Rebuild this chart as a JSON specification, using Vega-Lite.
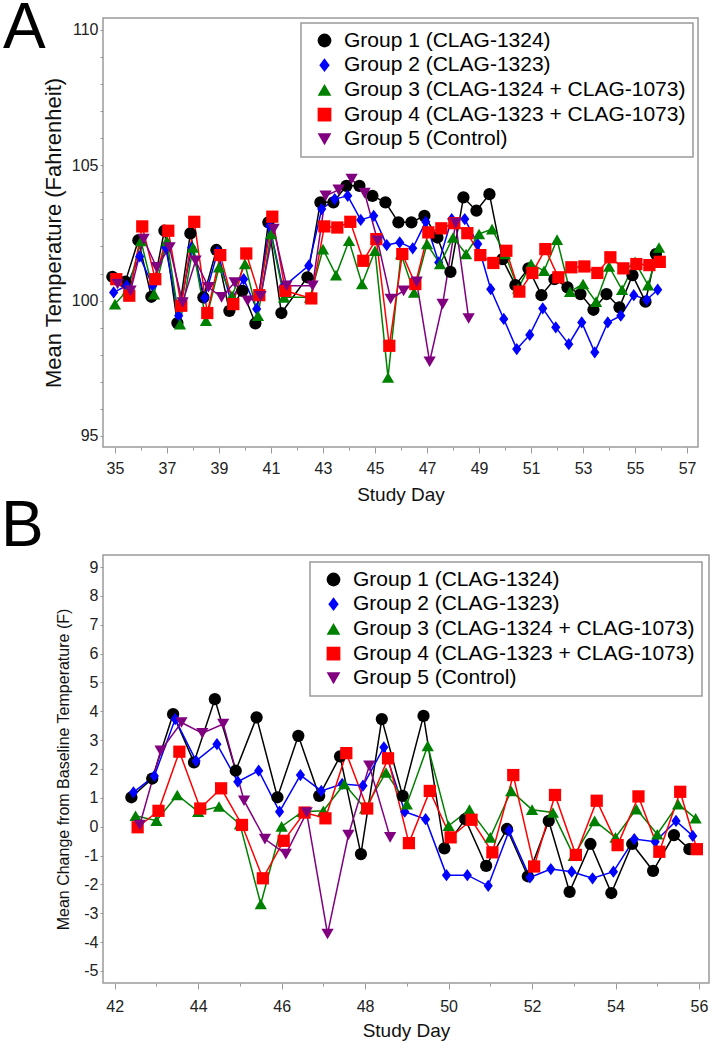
{
  "$schema": "https://vega.github.io/schema/vega-lite/v6.json",
  "background": "white",
  "padding": {"left": 0, "top": -4, "right": 0, "bottom": 0},
  "bounds": "flush",
  "spacing": 108,
  "config": {
    "font": "Liberation Sans",
    "view": {"stroke": "#9a9a9a", "strokeWidth": 1.5},
    "axis": {"grid": false, "domain": false, "tickColor": "#9a9a9a", "tickWidth": 1, "labelFont": "Liberation Sans", "labelFontSize": 16, "labelColor": "#222222", "titleFont": "Liberation Sans", "titleFontWeight": "normal", "titleColor": "#111111", "labelOverlap": false, "labelFlush": false},
    "legend": {"strokeColor": "#9a9a9a", "strokeWidth": 1.5, "fillColor": "#ffffff", "padding": 7, "symbolOffset": 6, "labelFont": "Liberation Sans", "labelFontSize": 21, "labelColor": "#000000", "symbolSize": 190, "symbolStrokeWidth": 0, "labelOffset": 9, "rowPadding": 2.7, "labelLimit": 600}
  },
  "datasets": {
    "A": [
      {"g":1,"d":34.9,"v":100.88},{"g":1,"d":35.4,"v":100.7},{"g":1,"d":35.9,"v":102.23},{"g":1,"d":36.4,"v":100.14},{"g":1,"d":36.9,"v":102.58},{"g":1,"d":37.4,"v":99.17},{"g":1,"d":37.9,"v":102.48},{"g":1,"d":38.4,"v":100.12},{"g":1,"d":38.9,"v":101.87},{"g":1,"d":39.4,"v":99.62},{"g":1,"d":39.9,"v":100.36},{"g":1,"d":40.4,"v":99.16},{"g":1,"d":40.9,"v":102.89},{"g":1,"d":41.4,"v":99.54},{"g":1,"d":42.4,"v":100.86},{"g":1,"d":42.9,"v":103.63},{"g":1,"d":43.4,"v":103.63},{"g":1,"d":43.9,"v":104.24},{"g":1,"d":44.4,"v":104.24},{"g":1,"d":44.9,"v":103.87},{"g":1,"d":45.4,"v":103.63},{"g":1,"d":45.9,"v":102.89},{"g":1,"d":46.4,"v":102.89},{"g":1,"d":46.9,"v":103.13},{"g":1,"d":47.4,"v":102.33},{"g":1,"d":47.9,"v":101.06},{"g":1,"d":48.4,"v":103.81},{"g":1,"d":48.9,"v":103.32},{"g":1,"d":49.4,"v":103.93},{"g":1,"d":49.9,"v":101.53},{"g":1,"d":50.4,"v":100.57},{"g":1,"d":50.9,"v":101.19},{"g":1,"d":51.4,"v":100.2},{"g":1,"d":51.9,"v":100.79},{"g":1,"d":52.4,"v":100.49},{"g":1,"d":52.9,"v":100.24},{"g":1,"d":53.4,"v":99.66},{"g":1,"d":53.9,"v":100.24},{"g":1,"d":54.4,"v":99.75},{"g":1,"d":54.9,"v":100.94},{"g":1,"d":55.4,"v":99.96},{"g":1,"d":55.8,"v":101.72},
      {"g":2,"d":34.95,"v":100.3},{"g":2,"d":35.45,"v":100.55},{"g":2,"d":35.95,"v":101.63},{"g":2,"d":36.45,"v":100.55},{"g":2,"d":36.95,"v":101.96},{"g":2,"d":37.45,"v":99.44},{"g":2,"d":37.95,"v":101.96},{"g":2,"d":38.45,"v":100.1},{"g":2,"d":38.95,"v":101.8},{"g":2,"d":39.45,"v":100.0},{"g":2,"d":39.95,"v":100.79},{"g":2,"d":40.45,"v":99.69},{"g":2,"d":40.95,"v":102.76},{"g":2,"d":41.45,"v":100.49},{"g":2,"d":42.45,"v":101.29},{"g":2,"d":42.95,"v":103.38},{"g":2,"d":43.45,"v":103.75},{"g":2,"d":43.95,"v":103.87},{"g":2,"d":44.45,"v":102.98},{"g":2,"d":44.95,"v":103.13},{"g":2,"d":45.45,"v":102.05},{"g":2,"d":45.95,"v":102.15},{"g":2,"d":46.45,"v":101.93},{"g":2,"d":46.95,"v":102.91},{"g":2,"d":47.45,"v":101.41},{"g":2,"d":47.95,"v":103.01},{"g":2,"d":48.45,"v":103.01},{"g":2,"d":48.95,"v":102.09},{"g":2,"d":49.45,"v":100.42},{"g":2,"d":49.95,"v":99.32},{"g":2,"d":50.45,"v":98.21},{"g":2,"d":50.95,"v":98.73},{"g":2,"d":51.45,"v":99.71},{"g":2,"d":51.95,"v":99.01},{"g":2,"d":52.45,"v":98.39},{"g":2,"d":52.95,"v":99.19},{"g":2,"d":53.45,"v":98.09},{"g":2,"d":53.95,"v":99.19},{"g":2,"d":54.45,"v":99.44},{"g":2,"d":54.95,"v":100.2},{"g":2,"d":55.45,"v":100.03},{"g":2,"d":55.87,"v":100.4},
      {"g":3,"d":35.0,"v":99.87},{"g":3,"d":35.5,"v":100.4},{"g":3,"d":36.0,"v":102.2},{"g":3,"d":36.5,"v":100.24},{"g":3,"d":37.0,"v":102.2},{"g":3,"d":37.5,"v":99.13},{"g":3,"d":38.0,"v":101.96},{"g":3,"d":38.5,"v":99.26},{"g":3,"d":39.0,"v":101.23},{"g":3,"d":39.5,"v":100.18},{"g":3,"d":40.0,"v":101.35},{"g":3,"d":40.5,"v":99.44},{"g":3,"d":41.0,"v":102.46},{"g":3,"d":41.5,"v":100.12},{"g":3,"d":42.5,"v":100.12},{"g":3,"d":43.0,"v":101.9},{"g":3,"d":43.5,"v":100.94},{"g":3,"d":44.0,"v":102.21},{"g":3,"d":44.5,"v":100.61},{"g":3,"d":45.0,"v":101.84},{"g":3,"d":45.5,"v":97.16},{"g":3,"d":46.0,"v":101.72},{"g":3,"d":46.5,"v":100.3},{"g":3,"d":47.0,"v":102.09},{"g":3,"d":47.5,"v":101.35},{"g":3,"d":48.0,"v":102.33},{"g":3,"d":48.5,"v":101.72},{"g":3,"d":49.0,"v":102.46},{"g":3,"d":49.5,"v":102.64},{"g":3,"d":50.0,"v":101.72},{"g":3,"d":50.5,"v":100.45},{"g":3,"d":51.0,"v":101.35},{"g":3,"d":51.5,"v":101.1},{"g":3,"d":52.0,"v":102.25},{"g":3,"d":52.5,"v":100.33},{"g":3,"d":53.0,"v":100.61},{"g":3,"d":53.5,"v":99.96},{"g":3,"d":54.0,"v":101.26},{"g":3,"d":54.5,"v":100.4},{"g":3,"d":55.0,"v":101.43},{"g":3,"d":55.5,"v":100.57},{"g":3,"d":55.92,"v":101.96},
      {"g":4,"d":35.05,"v":100.79},{"g":4,"d":35.55,"v":100.18},{"g":4,"d":36.05,"v":102.74},{"g":4,"d":36.55,"v":100.79},{"g":4,"d":37.05,"v":102.58},{"g":4,"d":37.55,"v":99.81},{"g":4,"d":38.05,"v":102.91},{"g":4,"d":38.55,"v":99.54},{"g":4,"d":39.05,"v":101.68},{"g":4,"d":39.55,"v":99.87},{"g":4,"d":40.05,"v":101.74},{"g":4,"d":40.55,"v":100.2},{"g":4,"d":41.05,"v":103.1},{"g":4,"d":41.55,"v":100.36},{"g":4,"d":42.55,"v":100.08},{"g":4,"d":43.05,"v":102.74},{"g":4,"d":43.55,"v":102.7},{"g":4,"d":44.05,"v":102.91},{"g":4,"d":44.55,"v":101.47},{"g":4,"d":45.05,"v":102.27},{"g":4,"d":45.55,"v":98.33},{"g":4,"d":46.05,"v":101.72},{"g":4,"d":46.55,"v":100.61},{"g":4,"d":47.05,"v":102.52},{"g":4,"d":47.55,"v":102.67},{"g":4,"d":48.05,"v":102.86},{"g":4,"d":48.55,"v":102.49},{"g":4,"d":49.05,"v":101.68},{"g":4,"d":49.55,"v":101.39},{"g":4,"d":50.05,"v":101.84},{"g":4,"d":50.55,"v":100.33},{"g":4,"d":51.05,"v":101.02},{"g":4,"d":51.55,"v":101.9},{"g":4,"d":52.05,"v":100.86},{"g":4,"d":52.55,"v":101.23},{"g":4,"d":53.05,"v":101.26},{"g":4,"d":53.55,"v":101.02},{"g":4,"d":54.05,"v":101.6},{"g":4,"d":54.55,"v":101.19},{"g":4,"d":55.05,"v":101.35},{"g":4,"d":55.55,"v":101.31},{"g":4,"d":55.95,"v":101.43},
      {"g":5,"d":35.1,"v":100.61},{"g":5,"d":35.6,"v":100.36},{"g":5,"d":36.1,"v":102.27},{"g":5,"d":36.6,"v":101.23},{"g":5,"d":37.1,"v":101.96},{"g":5,"d":37.6,"v":99.93},{"g":5,"d":38.1,"v":101.47},{"g":5,"d":38.6,"v":100.49},{"g":5,"d":39.1,"v":100.12},{"g":5,"d":39.6,"v":100.67},{"g":5,"d":40.1,"v":99.99},{"g":5,"d":40.6,"v":100.16},{"g":5,"d":41.1,"v":102.64},{"g":5,"d":41.6,"v":100.55},{"g":5,"d":42.6,"v":100.55},{"g":5,"d":43.1,"v":103.87},{"g":5,"d":43.6,"v":104.09},{"g":5,"d":44.1,"v":104.49},{"g":5,"d":44.6,"v":103.97},{"g":5,"d":45.1,"v":102.21},{"g":5,"d":45.6,"v":100.06},{"g":5,"d":46.1,"v":100.36},{"g":5,"d":46.6,"v":100.69},{"g":5,"d":47.1,"v":97.74},{"g":5,"d":47.6,"v":99.87},{"g":5,"d":48.1,"v":102.86},{"g":5,"d":48.6,"v":99.34}
    ],
    "B": [
      {"g":1,"d":42.4,"v":1.02},{"g":1,"d":42.9,"v":1.67},{"g":1,"d":43.4,"v":3.9},{"g":1,"d":43.9,"v":2.23},{"g":1,"d":44.4,"v":4.42},{"g":1,"d":44.9,"v":1.94},{"g":1,"d":45.4,"v":3.79},{"g":1,"d":45.9,"v":1.02},{"g":1,"d":46.4,"v":3.15},{"g":1,"d":46.9,"v":1.07},{"g":1,"d":47.4,"v":2.44},{"g":1,"d":47.9,"v":-0.95},{"g":1,"d":48.4,"v":3.73},{"g":1,"d":48.9,"v":1.07},{"g":1,"d":49.4,"v":3.84},{"g":1,"d":49.9,"v":-0.75},{"g":1,"d":50.4,"v":0.26},{"g":1,"d":50.9,"v":-1.36},{"g":1,"d":51.4,"v":-0.08},{"g":1,"d":51.9,"v":-1.72},{"g":1,"d":52.4,"v":0.2},{"g":1,"d":52.9,"v":-2.26},{"g":1,"d":53.4,"v":-0.6},{"g":1,"d":53.9,"v":-2.3},{"g":1,"d":54.4,"v":-0.6},{"g":1,"d":54.9,"v":-1.53},{"g":1,"d":55.4,"v":-0.29},{"g":1,"d":55.77,"v":-0.78},
      {"g":2,"d":42.45,"v":1.19},{"g":2,"d":42.95,"v":1.76},{"g":2,"d":43.45,"v":3.73},{"g":2,"d":43.95,"v":2.28},{"g":2,"d":44.45,"v":2.86},{"g":2,"d":44.95,"v":1.56},{"g":2,"d":45.45,"v":1.94},{"g":2,"d":45.95,"v":0.52},{"g":2,"d":46.45,"v":1.79},{"g":2,"d":46.95,"v":1.24},{"g":2,"d":47.45,"v":1.48},{"g":2,"d":47.95,"v":1.42},{"g":2,"d":48.45,"v":2.75},{"g":2,"d":48.95,"v":0.52},{"g":2,"d":49.45,"v":0.26},{"g":2,"d":49.95,"v":-1.68},{"g":2,"d":50.45,"v":-1.68},{"g":2,"d":50.95,"v":-2.05},{"g":2,"d":51.45,"v":-0.14},{"g":2,"d":51.95,"v":-1.76},{"g":2,"d":52.45,"v":-1.47},{"g":2,"d":52.95,"v":-1.56},{"g":2,"d":53.45,"v":-1.79},{"g":2,"d":53.95,"v":-1.56},{"g":2,"d":54.45,"v":-0.43},{"g":2,"d":54.95,"v":-0.52},{"g":2,"d":55.45,"v":0.2},{"g":2,"d":55.85,"v":-0.32},
      {"g":3,"d":42.5,"v":0.38},{"g":3,"d":43.0,"v":0.21},{"g":3,"d":43.5,"v":1.1},{"g":3,"d":44.0,"v":0.52},{"g":3,"d":44.5,"v":0.7},{"g":3,"d":45.0,"v":0.09},{"g":3,"d":45.5,"v":-2.68},{"g":3,"d":46.0,"v":0.01},{"g":3,"d":46.5,"v":0.52},{"g":3,"d":47.0,"v":0.55},{"g":3,"d":47.5,"v":1.48},{"g":3,"d":48.0,"v":0.63},{"g":3,"d":48.5,"v":1.88},{"g":3,"d":49.0,"v":0.78},{"g":3,"d":49.5,"v":2.8},{"g":3,"d":50.0,"v":0.03},{"g":3,"d":50.5,"v":0.59},{"g":3,"d":51.0,"v":-0.37},{"g":3,"d":51.5,"v":1.24},{"g":3,"d":52.0,"v":0.59},{"g":3,"d":52.5,"v":0.49},{"g":3,"d":53.0,"v":-1.01},{"g":3,"d":53.5,"v":0.2},{"g":3,"d":54.0,"v":-0.37},{"g":3,"d":54.5,"v":0.61},{"g":3,"d":55.0,"v":-0.26},{"g":3,"d":55.5,"v":0.78},{"g":3,"d":55.92,"v":0.29},
      {"g":4,"d":42.55,"v":-0.02},{"g":4,"d":43.05,"v":0.55},{"g":4,"d":43.55,"v":2.6},{"g":4,"d":44.05,"v":0.63},{"g":4,"d":44.55,"v":1.33},{"g":4,"d":45.05,"v":0.06},{"g":4,"d":45.55,"v":-1.79},{"g":4,"d":46.05,"v":-0.49},{"g":4,"d":46.55,"v":0.49},{"g":4,"d":47.05,"v":0.29},{"g":4,"d":47.55,"v":2.55},{"g":4,"d":48.05,"v":0.63},{"g":4,"d":48.55,"v":2.37},{"g":4,"d":49.05,"v":-0.57},{"g":4,"d":49.55,"v":1.24},{"g":4,"d":50.05,"v":-0.37},{"g":4,"d":50.55,"v":0.24},{"g":4,"d":51.05,"v":-0.89},{"g":4,"d":51.55,"v":1.79},{"g":4,"d":52.05,"v":-1.38},{"g":4,"d":52.55,"v":1.1},{"g":4,"d":53.05,"v":-0.98},{"g":4,"d":53.55,"v":0.9},{"g":4,"d":54.05,"v":-0.64},{"g":4,"d":54.55,"v":1.05},{"g":4,"d":55.05,"v":-0.87},{"g":4,"d":55.55,"v":1.21},{"g":4,"d":55.95,"v":-0.78},
      {"g":5,"d":42.6,"v":0.06},{"g":5,"d":43.1,"v":2.63},{"g":5,"d":43.6,"v":3.61},{"g":5,"d":44.1,"v":3.24},{"g":5,"d":44.6,"v":3.56},{"g":5,"d":45.1,"v":0.9},{"g":5,"d":45.6,"v":-0.43},{"g":5,"d":46.1,"v":-0.95},{"g":5,"d":46.6,"v":0.49},{"g":5,"d":47.1,"v":-3.72},{"g":5,"d":47.6,"v":-0.29},{"g":5,"d":48.1,"v":2.11},{"g":5,"d":48.6,"v":-0.37}
    ]
  },
  "vconcat": [
    {
      "width": 595,
      "height": 429,
      "title": {"text": "A", "anchor": "start", "frame": "group", "orient": "top", "fontSize": 64, "fontWeight": "normal", "font": "Liberation Sans", "color": "#000000", "baseline": "top", "offset": -43, "dx": -100},
      "data": {"name": "A"},
      "encoding": {
        "x": {"field": "d", "type": "quantitative", "scale": {"domain": [34.54, 57.42], "nice": false, "zero": false},
              "axis": {"title": "Study Day", "titleFontSize": 19, "titlePadding": 9, "values": [35,36,37,38,39,40,41,42,43,44,45,46,47,48,49,50,51,52,53,54,55,56,57], "labelExpr": "datum.value % 2 === 1 ? datum.label : ''", "tickSize": {"condition": {"test": "datum.value % 2 === 1", "value": 6}, "value": 3}, "labelPadding": 7, "labelOverlap": false}},
        "y": {"field": "v", "type": "quantitative", "scale": {"domain": [94.59, 110.44], "nice": false, "zero": false},
              "axis": {"title": "Mean Temperature (Fahrenheit)", "titleFontSize": 22, "titlePadding": 6, "values": [95,96,97,98,99,100,101,102,103,104,105,106,107,108,109,110], "labelExpr": "datum.value % 5 === 0 ? datum.label : ''", "tickSize": 3, "labelPadding": 2, "labelOverlap": false}},
        "color": {"field": "g", "type": "nominal", "scale": {"domain": [1,2,3,4,5], "range": ["#000000", "#0000ff", "#008000", "#ff0000", "#800080"]},
                  "legend": {"title": null, "orient": "top-right", "offset": 5, "labelExpr": "['Group 1 (CLAG-1324)','Group 2 (CLAG-1323)','Group 3 (CLAG-1324 + CLAG-1073)','Group 4 (CLAG-1323 + CLAG-1073)','Group 5 (Control)'][datum.value - 1]"}}
      },
      "layer": [
        {"mark": {"type": "line", "strokeWidth": 1.5}},
        {
          "mark": {"type": "point", "filled": true, "size": 150, "opacity": 1, "strokeWidth": 0},
          "encoding": {
            "shape": {"field": "g", "type": "nominal", "scale": {"domain": [1,2,3,4,5], "range": ["circle", "M0,-1L0.75,0L0,1L-0.75,0Z", "triangle-up", "square", "triangle-down"]},
                      "legend": {"title": null, "orient": "top-right", "offset": 5, "labelExpr": "['Group 1 (CLAG-1324)','Group 2 (CLAG-1323)','Group 3 (CLAG-1324 + CLAG-1073)','Group 4 (CLAG-1323 + CLAG-1073)','Group 5 (Control)'][datum.value - 1]"}}
          }
        }
      ]
    },
    {
      "width": 606,
      "height": 428,
      "title": {"text": "B", "anchor": "start", "frame": "group", "orient": "top", "fontSize": 64, "fontWeight": "normal", "font": "Liberation Sans", "color": "#000000", "baseline": "top", "offset": -4, "dx": -102},
      "data": {"name": "B"},
      "encoding": {
        "x": {"field": "d", "type": "quantitative", "scale": {"domain": [41.72, 56.24], "nice": false, "zero": false},
              "axis": {"title": "Study Day", "titleFontSize": 19, "titlePadding": 7, "values": [42,43,44,45,46,47,48,49,50,51,52,53,54,55,56], "labelExpr": "datum.value % 2 === 0 ? datum.label : ''", "tickSize": {"condition": {"test": "datum.value % 2 === 0", "value": 6}, "value": 3}, "labelPadding": 9, "labelOverlap": false}},
        "y": {"field": "v", "type": "quantitative", "scale": {"domain": [-5.42, 9.42], "nice": false, "zero": false},
              "axis": {"title": "Mean Change from Baseline Temperature (F)", "titleFontSize": 16, "titlePadding": 12, "values": [-5,-4,-3,-2,-1,0,1,2,3,4,5,6,7,8,9], "labelExpr": "replace(datum.label, '\u2212', '-')", "tickSize": 3, "labelPadding": 2, "labelOverlap": false}},
        "color": {"field": "g", "type": "nominal", "scale": {"domain": [1,2,3,4,5], "range": ["#000000", "#0000ff", "#008000", "#ff0000", "#800080"]},
                  "legend": {"title": null, "orient": "top-right", "offset": 7, "labelExpr": "['Group 1 (CLAG-1324)','Group 2 (CLAG-1323)','Group 3 (CLAG-1324 + CLAG-1073)','Group 4 (CLAG-1323 + CLAG-1073)','Group 5 (Control)'][datum.value - 1]"}}
      },
      "layer": [
        {"mark": {"type": "line", "strokeWidth": 1.5}},
        {
          "mark": {"type": "point", "filled": true, "size": 150, "opacity": 1, "strokeWidth": 0},
          "encoding": {
            "shape": {"field": "g", "type": "nominal", "scale": {"domain": [1,2,3,4,5], "range": ["circle", "M0,-1L0.75,0L0,1L-0.75,0Z", "triangle-up", "square", "triangle-down"]},
                      "legend": {"title": null, "orient": "top-right", "offset": 7, "labelExpr": "['Group 1 (CLAG-1324)','Group 2 (CLAG-1323)','Group 3 (CLAG-1324 + CLAG-1073)','Group 4 (CLAG-1323 + CLAG-1073)','Group 5 (Control)'][datum.value - 1]"}}
          }
        }
      ]
    }
  ],
  "resolve": {
    "scale": {"x": "independent", "y": "independent", "color": "independent", "shape": "independent"},
    "axis": {"x": "independent", "y": "independent"},
    "legend": {"color": "independent", "shape": "independent"}
  }
}
